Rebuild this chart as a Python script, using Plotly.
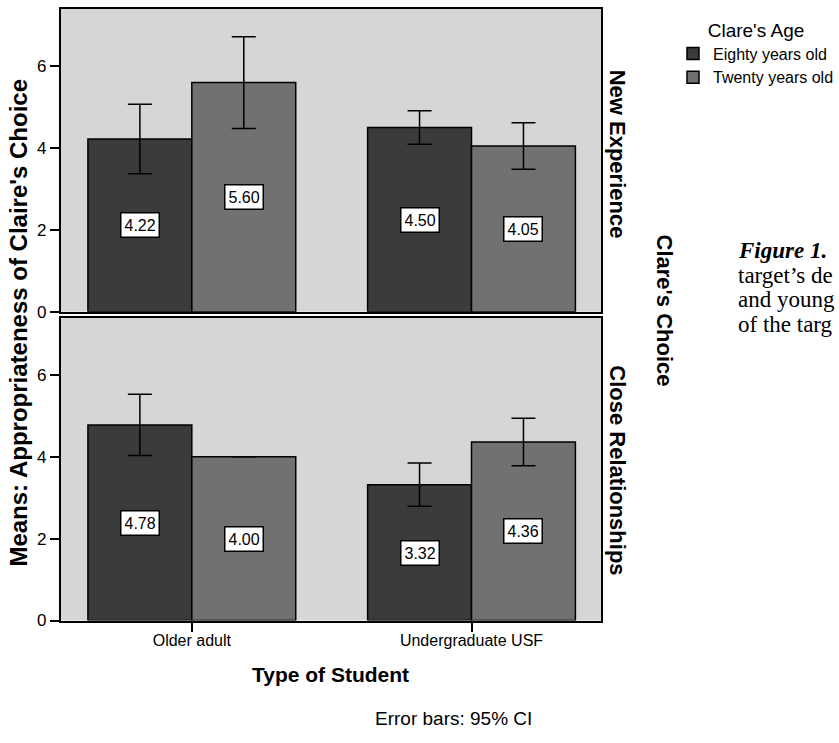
import plotly.graph_objects as go

# ---------------- data ----------------
categories = ["Older adult", "Undergraduate USF"]
series_names = ["Eighty years old", "Twenty years old"]
panel_names = ["New Experience", "Close Relationships"]

new_exp_eighty = [4.22, 4.50]
new_exp_twenty = [5.60, 4.05]
close_rel_eighty = [4.78, 3.32]
close_rel_twenty = [4.00, 4.36]

# 95% CI half-widths (None = no error bar drawn)
new_exp_eighty_ci = [0.85, 0.41]
new_exp_twenty_ci = [1.12, 0.57]
close_rel_eighty_ci = [0.75, 0.53]
close_rel_twenty_ci = [None, 0.58]

y_ticks = [0, 2, 4, 6]

# ---------------- layout constants ----------------
W, H = 839, 743
FONT = "Arial, Liberation Sans, Helvetica, sans-serif"
SERIF = "Times New Roman, Liberation Serif, serif"
dark = "#3b3b3b"
light = "#717171"
panel_bg = "#d6d6d6"
bargap = 0.257


def px_x(p):
    return p / W


def px_y(p):
    return 1 - p / H


xs = list(range(len(categories)))
colors = [dark, light]

panels = [
    (new_exp_eighty, new_exp_twenty, new_exp_eighty_ci, new_exp_twenty_ci),
    (close_rel_eighty, close_rel_twenty, close_rel_eighty_ci, close_rel_twenty_ci),
]

fig = go.Figure()
annotations = []
half = (1 - bargap) / 4  # centre offset of each bar in a 2-bar group

for pi, (a, b, a_ci, b_ci) in enumerate(panels):
    xa = "x" if pi == 0 else "x2"
    ya = "y" if pi == 0 else "y2"
    for si, (vals, ci) in enumerate([(a, a_ci), (b, b_ci)]):
        fig.add_trace(go.Bar(
            x=xs, y=vals, name=series_names[si],
            xaxis=xa, yaxis=ya,
            offsetgroup=str(si),
            marker=dict(color=colors[si], line=dict(color="black", width=1.5)),
            error_y=dict(type="data", array=ci, visible=True,
                         color="black", thickness=1.5, width=12),
            showlegend=(pi == 0),
            hoverinfo="skip",
        ))
        off = -half if si == 0 else half
        for xi, v in zip(xs, vals):
            annotations.append(dict(
                x=xi + off, y=v / 2, xref=xa, yref=ya,
                xanchor="center", yanchor="middle",
                text=f"{v:.2f}", showarrow=False,
                font=dict(family=FONT, size=16, color="black"),
                bgcolor="white", bordercolor="black", borderwidth=1.5,
                borderpad=3,
            ))

x_dom = [px_x(61), px_x(602)]
x_range = [-0.468, 1.464]
axis_line = dict(showline=True, linecolor="black", linewidth=2, mirror=True,
                 showgrid=False, zeroline=False)

fig.update_layout(
    width=W,
    autosize=True,
    margin=dict(l=0, r=0, t=0, b=0),
    paper_bgcolor="white",
    plot_bgcolor=panel_bg,
    barmode="group", bargap=bargap, bargroupgap=0,
    font=dict(family=FONT, color="black"),
    xaxis=dict(domain=x_dom, range=x_range, anchor="y",
               showticklabels=False, ticks="", **axis_line),
    xaxis2=dict(domain=x_dom, range=x_range, anchor="y2",
                tickvals=xs, ticktext=categories, ticks="outside",
                ticklen=9, tickwidth=2, tickcolor="black", ticklabelstandoff=-5,
                tickfont=dict(family=FONT, size=16, color="black"), **axis_line),
    yaxis=dict(domain=[px_y(316), px_y(9)], range=[0, 7.4], anchor="x",
               tickvals=y_ticks, ticks="outside", ticklen=9, tickwidth=2,
               tickcolor="black", tickfont=dict(family=FONT, size=17, color="black"),
               **axis_line),
    yaxis2=dict(domain=[px_y(629), px_y(322)], range=[0, 7.4], anchor="x2",
                tickvals=y_ticks, ticks="outside", ticklen=9, tickwidth=2,
                tickcolor="black", tickfont=dict(family=FONT, size=17, color="black"),
                **axis_line),
    legend=dict(
        x=px_x(674), y=px_y(12), xanchor="left", yanchor="top",
        title=dict(text="Clare's Age", side="top center",
                   font=dict(family=FONT, size=19, color="black")),
        font=dict(family=FONT, size=16, color="black"),
        bgcolor="rgba(0,0,0,0)", tracegroupgap=0, itemwidth=30,
    ),
)


def txt(x, y, text, size, family=FONT, angle=0, xanchor="center"):
    return dict(x=px_x(x), y=px_y(y), xref="paper", yref="paper",
                xanchor=xanchor, yanchor="middle", text=text, textangle=angle,
                showarrow=False, font=dict(family=family, size=size, color="black"))


annotations += [
    txt(19, 327, "<b>Means: Appropriateness of Claire's Choice</b>", 24, angle=-90),
    txt(618, 156, f"<b>{panel_names[0]}</b>", 22, angle=90),
    txt(618, 477, f"<b>{panel_names[1]}</b>", 22, angle=90),
    txt(665, 315, "<b>Clare's Choice</b>", 22, angle=90),
    txt(331, 684, "<b>Type of Student</b>", 21),
    txt(454, 728, "Error bars: 95% CI", 19),
    txt(737, 254, "<b><i>Figure 1.</i></b>", 23, family=SERIF, xanchor="left"),
    txt(737, 279, "target’s de", 23, family=SERIF, xanchor="left"),
    txt(737, 304, "and young", 23, family=SERIF, xanchor="left"),
    txt(737, 329, "of the targ", 23, family=SERIF, xanchor="left"),
]
fig.update_layout(annotations=annotations)

fig.write_html(
    "out.html",
    config={"displayModeBar": False},
    default_width=f"{W}px",
    default_height="100vh",
    post_script="document.body.style.margin='0';document.body.style.overflow='hidden';",
)
